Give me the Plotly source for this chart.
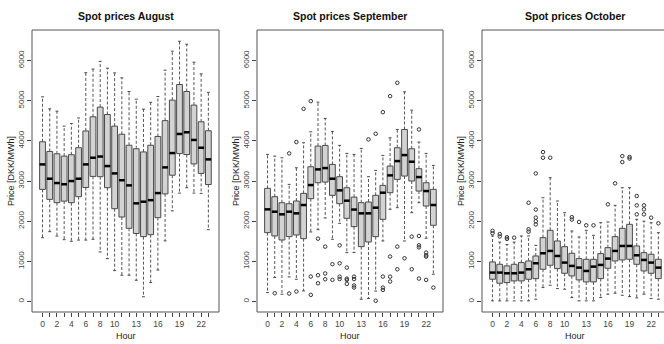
import plotly.graph_objects as go

hours = list(range(24))
tick_labels = ["0", "", "2", "", "4", "", "6", "", "8", "", "10", "", "", "13", "", "", "16", "", "", "19", "", "", "22", ""]
titles = ["Spot prices August", "Spot prices September", "Spot prices October"]

# August
aug_lo = [1590, 1740, 1630, 1540, 1500, 1530, 1530, 1550, 1235, 1069, 770, 655, 655, 530, 120, 472, 785, 1510, 2258, 2700, 2834, 2700, 2693, 1790]
aug_q1 = [2793, 2544, 2461, 2500, 2461, 2610, 2840, 3115, 3108, 2834, 2312, 2105, 1823, 1695, 1616, 1665, 2088, 2680, 3145, 3683, 3659, 3426, 3190, 2913]
aug_med = [3414, 3058, 2950, 2920, 3000, 3058, 3414, 3580, 3610, 3373, 3190, 3020, 2892, 2445, 2486, 2524, 2700, 3340, 3696, 4172, 4214, 4023, 3829, 3539]
aug_q3 = [3978, 3737, 3679, 3621, 3655, 3829, 4247, 4599, 4840, 4657, 4367, 4164, 3891, 3804, 3725, 3891, 4110, 4504, 5014, 5403, 5229, 4890, 4475, 4252]
aug_hi = [5096, 4798, 4740, 4367, 4434, 4570, 5697, 5788, 5979, 5809, 5693, 5569, 5229, 5038, 4790, 4960, 5104, 5760, 6232, 6480, 6406, 5958, 5668, 5209]
aug_out = [[] for _ in range(24)]

# September
sep_lo = [224, 597, 182, 613, 555, 265, 1732, 1790, 2080, 1550, 1947, 1218, 1220, 58, 75, 260, 1508, 2296, 2337, 1508, 2213, 2461, 1575, 680]
sep_q1 = [1715, 1633, 1533, 1616, 1657, 1566, 2561, 2958, 2975, 2644, 2436, 2072, 1865, 1367, 1483, 1616, 2047, 2710, 3041, 3124, 3000, 2751, 2378, 1898]
sep_med = [2295, 2237, 2171, 2237, 2196, 2403, 2900, 3290, 3323, 3058, 2768, 2511, 2290, 2196, 2196, 2337, 2710, 3141, 3497, 3646, 3481, 3099, 2751, 2403]
sep_q3 = [2818, 2610, 2461, 2436, 2503, 2693, 3356, 3870, 3887, 3414, 3108, 2834, 2600, 2461, 2478, 2644, 2892, 3373, 3829, 4284, 3804, 3307, 2958, 2793]
sep_hi = [3663, 3621, 3580, 2917, 3331, 3953, 4226, 4964, 4558, 4235, 3887, 3688, 3663, 3812, 3108, 3265, 3638, 4077, 4284, 5221, 4765, 3970, 3688, 3389]
sep_out = [[], [207], [], [3688, 200], [3970, 250], [4798], [4989, 622, 166], [1566, 655, 456],
           [1367, 700, 555], [930, 540], [1400, 953, 620, 560], [845, 570, 540, 440],
           [620, 560, 400, 350], [], [4036], [4177, 20], [4715, 622, 348, 290], [5113, 1120, 620, 500],
           [5445, 1367, 804], [1077], [1616, 804], [4284, 1633, 1400, 1350, 572], [1218, 1150, 1119, 539], [348]]

# October
oct_lo = [17, 17, 17, 17, 17, 17, 58, 348, 406, 323, 307, 99, 17, 17, 17, 99, 182, 207, 157, 124, 91, 182, 75, 58]
oct_q1 = [555, 456, 472, 514, 514, 555, 570, 804, 903, 820, 704, 638, 539, 489, 489, 572, 829, 1011, 1036, 1052, 928, 762, 704, 572]
oct_med = [721, 721, 704, 704, 721, 804, 953, 1202, 1260, 1135, 970, 887, 845, 762, 870, 912, 1069, 1260, 1384, 1384, 1152, 1036, 970, 845]
oct_q3 = [986, 928, 887, 928, 970, 1011, 1135, 1591, 1773, 1508, 1367, 1202, 1069, 1052, 1052, 1193, 1342, 1616, 1823, 1923, 1384, 1218, 1177, 1052]
oct_hi = [1633, 1480, 1420, 1480, 1633, 1633, 1400, 2585, 3083, 2503, 2213, 1757, 1608, 1773, 1649, 1964, 1981, 2395, 2834, 2834, 2047, 2000, 1964, 1715]
oct_out = [[1760, 1700], [1680, 1620], [1600, 1560], [1590], [], [2460, 1800, 1740],
           [3190, 2290, 2090, 2000, 1920], [3721, 3580], [3580], [], [], [2100, 2040],
           [1981], [1898], [1898], [], [2420], [2942], [3621, 3472], [3600, 3560],
           [2627, 2395, 2171], [2395, 2295, 2171], [2088], [1948]]

months = [
    (aug_lo, aug_q1, aug_med, aug_q3, aug_hi, aug_out),
    (sep_lo, sep_q1, sep_med, sep_q3, sep_hi, sep_out),
    (oct_lo, oct_q1, oct_med, oct_q3, oct_hi, oct_out),
]

BOX_HALF = 0.4
CAP_HALF = 0.2
BORDER = "#4a4a4a"
FILL = "#d3d3d3"
FONT = "Liberation Sans, Arial, sans-serif"

fig = go.Figure()

for p, (lo, q1, med, q3, hi, out) in enumerate(months):
    xa = "x" if p == 0 else f"x{p+1}"
    ya = "y" if p == 0 else f"y{p+1}"
    bx, by, mx, my, wx, wy, cx, cy, ox, oy = [], [], [], [], [], [], [], [], [], []
    for h in hours:
        bx += [h - BOX_HALF, h + BOX_HALF, h + BOX_HALF, h - BOX_HALF, h - BOX_HALF, None]
        by += [q1[h], q1[h], q3[h], q3[h], q1[h], None]
        mx += [h - BOX_HALF, h + BOX_HALF, None]
        my += [med[h], med[h], None]
        wx += [h, h, None, h, h, None]
        wy += [q3[h], hi[h], None, q1[h], lo[h], None]
        cx += [h - CAP_HALF, h + CAP_HALF, None, h - CAP_HALF, h + CAP_HALF, None]
        cy += [hi[h], hi[h], None, lo[h], lo[h], None]
        for v in out[h]:
            ox.append(h)
            oy.append(v)
    fig.add_trace(go.Scatter(x=wx, y=wy, mode="lines", xaxis=xa, yaxis=ya,
                             line=dict(color="#555555", width=1, dash="3px,2px"), hoverinfo="skip"))
    fig.add_trace(go.Scatter(x=cx, y=cy, mode="lines", xaxis=xa, yaxis=ya,
                             line=dict(color=BORDER, width=1), hoverinfo="skip"))
    fig.add_trace(go.Scatter(x=bx, y=by, mode="lines", fill="toself", fillcolor=FILL, xaxis=xa, yaxis=ya,
                             line=dict(color=BORDER, width=1), hoverinfo="skip"))
    fig.add_trace(go.Scatter(x=mx, y=my, mode="lines", xaxis=xa, yaxis=ya,
                             line=dict(color="#000000", width=2.5), hoverinfo="skip"))
    fig.add_trace(go.Scatter(x=ox, y=oy, mode="markers", xaxis=xa, yaxis=ya,
                             marker=dict(symbol="circle-open", size=3.5, color="#333333", line=dict(width=1)),
                             hoverinfo="skip"))

W, H = 664, 344
left_px = [32, 257, 482]
width_px = [187, 186, 186]
top_px, bottom_px = 30, 312
px_per_unit = 7.21
x_start = -1.46

layout = dict(
    width=W, height=H, autosize=False,
    margin=dict(l=0, r=0, t=0, b=0),
    paper_bgcolor="white", plot_bgcolor="white",
    showlegend=False,
    font=dict(family=FONT, color="#333333"),
)

shapes = []
annotations = []
for p in range(3):
    l = left_px[p]
    r = min(l + width_px[p], W)
    x_end = x_start + (r - l) / px_per_unit
    xkey = "xaxis" if p == 0 else f"xaxis{p+1}"
    ykey = "yaxis" if p == 0 else f"yaxis{p+1}"
    xref = "x" if p == 0 else f"x{p+1}"
    yref = "y" if p == 0 else f"y{p+1}"
    layout[xkey] = dict(
        domain=[l / W, r / W], range=[x_start, x_end], anchor=yref,
        tickmode="array", tickvals=hours, ticktext=tick_labels,
        ticks="outside", ticklen=4, tickcolor="#444444", tickwidth=1,
        showgrid=False, zeroline=False, showline=False, automargin=False,
        tickfont=dict(size=8.5, color="#444444", family=FONT),
    )
    layout[ykey] = dict(
        domain=[(H - bottom_px) / H, (H - top_px) / H], range=[-260, 6760], anchor=xref,
        tickmode="array", tickvals=[0, 1000, 2000, 3000, 4000, 5000, 6000],
        ticks="outside", ticklen=4, tickcolor="#444444", tickwidth=1, tickangle=-90,
        showgrid=False, zeroline=False, showline=False, automargin=False,
        tickfont=dict(size=8, color="#444444", family=FONT),
    )
    shapes.append(dict(type="rect", xref=f"{xref} domain", yref=f"{yref} domain",
                       x0=0, x1=1 if p < 2 else 1.05, y0=0, y1=1,
                       line=dict(color="#555555", width=1), layer="above"))
    cx = (l + width_px[p] / 2) / W
    annotations.append(dict(text="<b>" + titles[p] + "</b>", xref="paper", yref="paper",
                            x=cx, y=(H - 16) / H, showarrow=False, xanchor="center", yanchor="middle",
                            font=dict(size=10.5, color="#111111", family=FONT)))
    annotations.append(dict(text="Hour", xref="paper", yref="paper",
                            x=cx, y=(H - 336) / H, showarrow=False, xanchor="center", yanchor="middle",
                            font=dict(size=9, color="#222222", family=FONT)))
    annotations.append(dict(text="Price [DKK/MWh]", xref="paper", yref="paper",
                            x=(l - 21) / W, y=(H - 171) / H, showarrow=False, textangle=-90,
                            xanchor="center", yanchor="middle",
                            font=dict(size=9, color="#222222", family=FONT)))

layout["shapes"] = shapes
layout["annotations"] = annotations
fig.update_layout(**layout)
fig.write_html("out.html", config={"displayModeBar": False, "staticPlot": True},
               post_script="document.body.style.margin='0';document.body.style.overflow='hidden';")
